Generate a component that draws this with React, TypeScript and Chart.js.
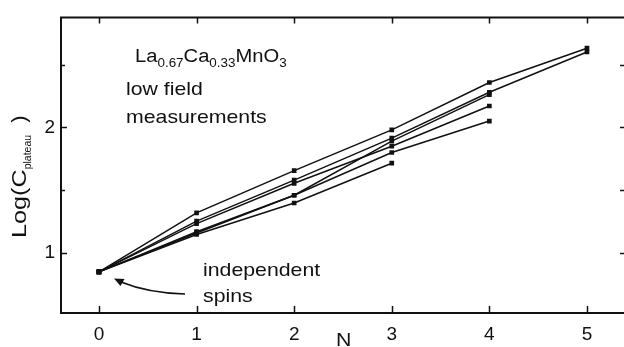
import React, { useEffect, useRef } from 'react';
import { Chart, registerables } from 'chart.js';

Chart.register(...registerables);

// ---- data ----
const N_VALUES = [0, 1, 2, 3, 4, 5];
const SERIES_1 = [0.85, 1.32, 1.656, 1.98, 2.357, 2.63];
const SERIES_2 = [0.85, 1.254, 1.58, 1.914, 2.279, 2.6];
const SERIES_3 = [0.85, 1.234, 1.555, 1.85, 2.17];
const SERIES_4 = [0.85, 1.17, 1.46, 1.89, 2.26];
const SERIES_5 = [0.85, 1.16, 1.46, 1.8, 2.05];
const SERIES_6 = [0.85, 1.148, 1.398, 1.715];

const X_TICKS = [0, 1, 2, 3, 4, 5];
const Y_TICKS = [1, 1.5, 2, 2.5];
const Y_LABELLED = [1, 2];

const X_MIN = -0.389;
const X_MAX = 5.4;
const Y_MIN = 0.523;
const Y_MAX = 2.875;

const FONT = "'Liberation Sans', Arial, Helvetica, sans-serif";
const INK = '#111';
const SX = 1.12; // horizontal stretch of the annotation lettering

type Part = { t: string; sub?: boolean; sx?: number };

function drawRich(
  ctx: CanvasRenderingContext2D,
  parts: Part[],
  size: number,
  subSize: number,
  subDy: number,
  sx: number
) {
  let cx = 0;
  for (const p of parts) {
    const s = p.sx ?? sx;
    ctx.font = `${p.sub ? subSize : size}px ${FONT}`;
    ctx.save();
    ctx.translate(cx, p.sub ? subDy : 0);
    ctx.scale(s, 1);
    ctx.fillText(p.t, 0, 0);
    ctx.restore();
    cx += ctx.measureText(p.t).width * s;
  }
}

const overlay = {
  id: 'overlay',
  afterDraw(chart: any) {
    const ctx: CanvasRenderingContext2D = chart.ctx;
    const ca = chart.chartArea;
    const xs = chart.scales.x;
    const ys = chart.scales.y;
    ctx.save();
    ctx.strokeStyle = INK;
    ctx.fillStyle = INK;

    // frame (left, top, bottom)
    ctx.lineWidth = 2;
    ctx.beginPath();
    ctx.moveTo(ca.right + 2, ca.top);
    ctx.lineTo(ca.left, ca.top);
    ctx.lineTo(ca.left, ca.bottom);
    ctx.lineTo(ca.right + 2, ca.bottom);
    ctx.stroke();

    // tick marks
    ctx.lineWidth = 1.5;
    ctx.beginPath();
    for (const v of X_TICKS) {
      const px = Math.round(xs.getPixelForValue(v)) + 0.5;
      ctx.moveTo(px, ca.bottom);
      ctx.lineTo(px, ca.bottom - 7);
      ctx.moveTo(px, ca.top);
      ctx.lineTo(px, ca.top + 6);
    }
    for (const v of Y_TICKS) {
      const py = Math.round(ys.getPixelForValue(v)) + 0.5;
      const len = Y_LABELLED.includes(v) ? 6 : 4;
      ctx.moveTo(ca.left, py);
      ctx.lineTo(ca.left + len, py);
      ctx.moveTo(ca.right, py);
      ctx.lineTo(ca.right - 6, py);
    }
    ctx.stroke();

    ctx.textBaseline = 'alphabetic';
    ctx.textAlign = 'left';

    // formula
    ctx.save();
    ctx.translate(135, 62);
    drawRich(
      ctx,
      [
        { t: 'La' },
        { t: '0.67', sub: true },
        { t: 'Ca' },
        { t: '0.33', sub: true },
        { t: 'MnO' },
        { t: '3', sub: true },
      ],
      18,
      12,
      4.5,
      SX
    );
    ctx.restore();

    const plain = (txt: string, x: number, y: number, size: number) => {
      ctx.save();
      ctx.translate(x, y);
      ctx.scale(SX, 1);
      ctx.font = `${size}px ${FONT}`;
      ctx.fillText(txt, 0, 0);
      ctx.restore();
    };
    plain('low field', 126, 95, 19);
    plain('measurements', 126, 123, 19);
    plain('independent', 203, 276, 19);
    plain('spins', 203, 302, 19);
    plain('N', 336, 346, 19);

    // y axis title
    ctx.save();
    ctx.translate(26, 238);
    ctx.rotate(-Math.PI / 2);
    drawRich(
      ctx,
      [
        { t: 'Log(C', sx: 1.26 },
        { t: 'plateau', sub: true, sx: 1.0 },
        { t: '  )', sx: 1.1 },
      ],
      20,
      10.5,
      5,
      1.2
    );
    ctx.restore();

    // curved arrow
    ctx.lineWidth = 1.6;
    ctx.beginPath();
    ctx.moveTo(185, 294);
    ctx.quadraticCurveTo(148, 293, 121, 282);
    ctx.stroke();
    ctx.beginPath();
    ctx.moveTo(114, 278.5);
    ctx.lineTo(124.5, 279);
    ctx.lineTo(120.5, 286);
    ctx.closePath();
    ctx.fill();

    ctx.restore();
  },
};

export default function App() {
  const ref = useRef<HTMLCanvasElement>(null);

  useEffect(() => {
    const canvas = ref.current;
    if (!canvas) return;
    const all = [SERIES_1, SERIES_2, SERIES_3, SERIES_4, SERIES_5, SERIES_6];
    const chart = new Chart(canvas, {
      type: 'line',
      data: {
        datasets: all.map((s) => ({
          data: s.map((v, j) => ({ x: N_VALUES[j], y: v })),
          borderColor: INK,
          borderWidth: 1.5,
          pointStyle: 'rect',
          pointRadius: 3.3,
          pointBackgroundColor: INK,
          pointBorderWidth: 0,
          pointBorderColor: INK,
          fill: false,
          tension: 0,
        })),
      },
      options: {
        responsive: false,
        animation: false,
        devicePixelRatio: 1,
        layout: { padding: { top: 12, right: 4, left: 0, bottom: 0 } },
        plugins: { legend: { display: false }, tooltip: { enabled: false } },
        scales: {
          x: {
            type: 'linear',
            min: X_MIN,
            max: X_MAX,
            grid: { display: false, drawTicks: false },
            border: { display: false },
            ticks: {
              padding: 10,
              color: INK,
              font: { family: FONT, size: 19 },
              callback: (v: any) => String(v),
            },
            afterBuildTicks: (s: any) => {
              s.ticks = X_TICKS.map((v) => ({ value: v }));
            },
            afterFit: (s: any) => {
              s.height = 34;
            },
          },
          y: {
            type: 'linear',
            min: Y_MIN,
            max: Y_MAX,
            grid: { display: false, drawTicks: false },
            border: { display: false },
            ticks: {
              padding: 6,
              color: INK,
              font: { family: FONT, size: 19 },
              callback: (v: any) => (Y_LABELLED.includes(Number(v)) ? String(v) : ''),
            },
            afterBuildTicks: (s: any) => {
              s.ticks = Y_TICKS.map((v) => ({ value: v }));
            },
            afterFit: (s: any) => {
              s.width = 61;
            },
          },
        },
      } as any,
      plugins: [overlay],
    });
    return () => chart.destroy();
  }, []);

  return (
    <div style={{ position: 'fixed', left: 0, top: 0, width: 630, height: 347, background: '#fff' }}>
      <canvas ref={ref} width={630} height={347} style={{ display: 'block' }} />
    </div>
  );
}
